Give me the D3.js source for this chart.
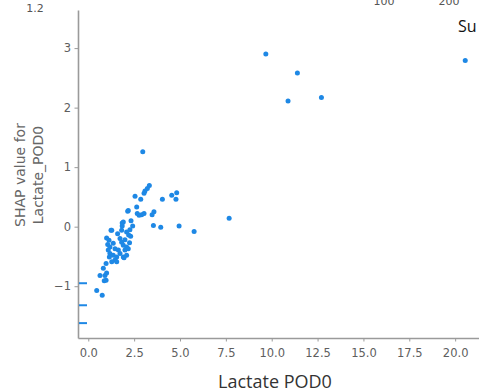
<!DOCTYPE html>
<html>
<head>
<meta charset="utf-8">
<script src="https://cdn.jsdelivr.net/npm/d3@7"></script>
<style>
  body { margin: 0; background: #fff; }
  svg { display: block; }
  .tick text { font-family: "DejaVu Sans", sans-serif; font-size: 11.5px; fill: #5e5e5e; }
</style>
</head>
<body>
<div class="container"></div>
<script>
// lactate value (x) and SHAP value (y) for each sample
const lactate = [9.68, 11.40, 10.89, 12.71, 20.55, 2.97, 7.68, 5.77, 3.33, 3.22,
  3.09, 3.04, 2.55, 2.86, 4.55, 4.82, 4.78, 4.04, 2.64, 2.15,
  2.67, 2.77, 3.04, 3.58, 3.48, 3.55, 3.95, 4.95, 2.33, 1.91,
  1.85, 1.82, 2.09, 1.24, 2.42, 2.27, 2.20, 2.31, 1.00, 1.13,
  1.06, 1.18, 1.36, 1.46, 1.73, 1.82, 1.91, 1.64, 2.09, 2.00,
  2.18, 1.18, 1.36, 1.55, 1.73, 1.91, 2.09, 1.15, 1.46, 1.55,
  1.95, 1.09, 1.28, 0.97, 0.82, 0.91, 0.64, 1.00, 0.87, 0.97,
  0.46, 0.76, 2.18, 2.91, 1.85, 1.28, 2.0, 2.25, 1.6];
const shap = [2.90, 2.58, 2.11, 2.17, 2.79, 1.26, 0.14, -0.08, 0.69, 0.64,
  0.60, 0.56, 0.51, 0.46, 0.53, 0.57, 0.46, 0.46, 0.33, 0.26,
  0.22, 0.19, 0.22, 0.25, 0.20, 0.02, -0.01, 0.01, 0.10, 0.08,
  0.01, -0.06, -0.09, -0.06, 0.01, -0.05, -0.14, -0.16, -0.19, -0.23,
  -0.30, -0.34, -0.28, -0.37, -0.20, -0.26, -0.31, -0.39, -0.34, -0.39,
  -0.37, -0.45, -0.48, -0.51, -0.45, -0.51, -0.48, -0.51, -0.56, -0.59,
  -0.52, -0.39, -0.59, -0.62, -0.70, -0.82, -0.82, -0.78, -0.91, -0.90,
  -1.07, -1.15, 0.27, 0.20, 0.06, -0.06, -0.22, -0.27, -0.12];
// samples with missing lactate, drawn at the left edge
const nanShap = [-0.95, -1.32, -1.62];

const xTicks = [0, 2.5, 5, 7.5, 10, 12.5, 15, 17.5, 20];
const yTicks = [-1, 0, 1, 2, 3];

const W = 479, H = 392;
const svg = d3.select(".container").append("svg")
  .attr("width", W).attr("height", H);

const x = d3.scaleLinear().domain([-0.56, 21.3]).range([78, 479]);
const y = d3.scaleLinear().domain([-1.87, 3.64]).range([338, 10]);

const xAxis = svg.append("g")
  .attr("transform", "translate(0,338)")
  .call(d3.axisBottom(x).tickValues(xTicks).tickFormat(d3.format(".1f")).tickSize(3.5).tickSizeOuter(0));
const yAxis = svg.append("g")
  .attr("transform", "translate(78,0)")
  .call(d3.axisLeft(y).tickValues(yTicks).tickFormat(d => d < 0 ? "\u2212" + Math.abs(d) : d).tickSize(3.5).tickSizeOuter(0));

[xAxis, yAxis].forEach(a => {
  a.select(".domain").attr("stroke", "#9a9a9a").attr("stroke-width", 1.6);
  a.selectAll(".tick line").attr("stroke", "#9a9a9a").attr("stroke-width", 1);
});
xAxis.selectAll(".tick text").attr("dy", "1.05em");
yAxis.selectAll(".tick text").attr("x", -7);

svg.append("g").selectAll("circle")
  .data(lactate.map((v, i) => [v, shap[i]]))
  .join("circle")
  .attr("cx", d => x(d[0]))
  .attr("cy", d => y(d[1]))
  .attr("r", 2.5)
  .attr("fill", "#1E88E5");

svg.append("g").selectAll("line")
  .data(nanShap)
  .join("line")
  .attr("x1", 79).attr("x2", 87)
  .attr("y1", d => y(d)).attr("y2", d => y(d))
  .attr("stroke", "#1E88E5")
  .attr("stroke-width", 2);

svg.append("text")
  .attr("x", 275).attr("y", 388)
  .attr("text-anchor", "middle")
  .style("font-family", "Open Sans, sans-serif")
  .style("font-size", "18px")
  .attr("fill", "#333")
  .text("Lactate POD0");

const yl = svg.append("text")
  .attr("transform", "translate(25,175) rotate(-90)")
  .attr("text-anchor", "middle")
  .style("font-family", "DejaVu Sans, sans-serif")
  .style("font-size", "14px")
  .attr("fill", "#666");
yl.append("tspan").attr("x", 0).attr("dy", 0).text("SHAP value for");
yl.append("tspan").attr("x", 0).attr("dy", "1.25em").text("Lactate_POD0");

// fragments of neighbouring panels cut off by the crop
svg.append("text").attr("x", 35).attr("y", 12).attr("text-anchor", "middle")
  .style("font-family", "DejaVu Sans, sans-serif").style("font-size", "11px")
  .attr("fill", "#555").text("1.2");
svg.append("text").attr("x", 384).attr("y", 5).attr("text-anchor", "middle")
  .style("font-family", "DejaVu Sans, sans-serif").style("font-size", "11px")
  .attr("fill", "#555").text("100");
svg.append("text").attr("x", 449).attr("y", 5).attr("text-anchor", "middle")
  .style("font-family", "DejaVu Sans, sans-serif").style("font-size", "11px")
  .attr("fill", "#555").text("200");
svg.append("text").attr("x", 458).attr("y", 32)
  .style("font-family", "Open Sans, sans-serif").style("font-size", "16px")
  .attr("fill", "#111").text("Su");
</script>
</body>
</html>
